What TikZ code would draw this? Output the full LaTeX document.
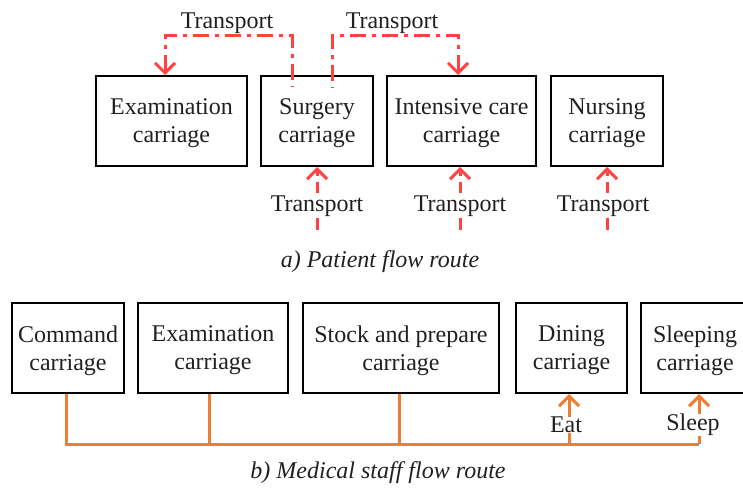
\documentclass[tikz,border=0pt]{standalone}
\usepackage{fontspec}
\setmainfont{Liberation Serif}
\usetikzlibrary{arrows.meta}

\definecolor{flowred}{HTML}{FF4343}
\definecolor{floworange}{HTML}{ED7D31}
\definecolor{txtgray}{HTML}{231F20}

\begin{document}
\begin{tikzpicture}[x=0.5pt,y=-0.5pt,
    every node/.style={font=\fontsize{12}{14}\selectfont,text=txtgray},
    carriage/.style={draw=black,line width=1pt,align=center,inner sep=0pt,text depth=0pt,minimum height=45pt},
    patient/.style={draw=flowred,line width=1.5pt,dash pattern=on 8pt off 3pt on 2pt off 3pt},
    staff/.style={draw=floworange,line width=1.5pt},
    arr/.style={-{Straight Barb[length=5pt,width=10pt]}},
    rarr/.style={{Straight Barb[length=5pt,width=10pt]}-},
    lbl/.style={fill=white,inner sep=1pt}]
    \useasboundingbox (0,0) rectangle (743,487);
    % a) patient flow route
    \node[carriage,minimum width=75.5pt] (exam) at (171.5,121) {Examination\\carriage};
    \node[carriage,minimum width=56pt] (surg) at (317,121) {Surgery\\carriage};
    \node[carriage,minimum width=74.5pt] (icu) at (461.5,121) {Intensive care\\carriage};
    \node[carriage,minimum width=56pt] (nurs) at (607,121) {Nursing\\carriage};
    \coordinate (sL) at (292,87);
    \coordinate (sR) at (332,87);
    \draw[patient,rarr] ([xshift=-3.25pt]exam.north) |- (292,35) -- (sL);
    \draw[patient,rarr] ([xshift=-1.75pt]icu.north) |- (332,35) -- (sR);
    \node (t1) at (227,23) {Transport};
    \node (t2) at (392,23) {Transport};
    \coordinate (inS) at (317,235);
    \coordinate (inI) at (460,235);
    \coordinate (inN) at (607,235);
    \draw[patient,rarr,dash phase=10.5pt] (surg.south) -- node[lbl,pos=0.57]{Transport} (inS);
    \draw[patient,rarr,dash phase=10.5pt] ([xshift=-0.75pt]icu.south) -- node[lbl,pos=0.57]{Transport} (inI);
    \draw[patient,rarr,dash phase=10.5pt] (nurs.south) -- node[lbl,pos=0.57,xshift=-2pt]{Transport} (inN);
    \node[font=\fontsize{12}{14}\selectfont\itshape] (capa) at (380,262) {a) Patient flow route};
    % b) medical staff flow route
    \node[carriage,minimum width=56pt] (cmd) at (68,348) {Command\\carriage};
    \node[carriage,minimum width=75pt] (exam2) at (213,348) {Examination\\carriage};
    \node[carriage,minimum width=98pt] (stock) at (401,348) {Stock and prepare\\carriage};
    \node[carriage,minimum width=55.5pt] (dine) at (571.5,348) {Dining\\carriage};
    \node[carriage,minimum width=54pt] (sleep) at (695,348) {Sleeping\\carriage};
    \coordinate (eatb) at (569,444);
    \coordinate (sleepb) at (699,444);
    \draw[staff] ([xshift=-1pt]cmd.south) |- (sleepb);
    \draw[staff] ([xshift=-2pt]exam2.south) -- ([xshift=-2pt]exam2.south |- sleepb);
    \draw[staff] ([xshift=-1pt]stock.south) -- ([xshift=-1pt]stock.south |- sleepb);
    \draw[staff,arr] (eatb) -- node[lbl,pos=0.38,inner sep=0pt,xshift=-1.5pt]{Eat} ([xshift=-1.25pt]dine.south);
    \draw[staff,arr] (sleepb) -- node[lbl,pos=0.38,inner sep=0pt,xshift=-3pt]{Sleep} ([xshift=2pt]sleep.south);
    \node[font=\fontsize{12}{14}\selectfont\itshape] (capb) at (378,473) {b) Medical staff flow route};
\end{tikzpicture}
\end{document}
